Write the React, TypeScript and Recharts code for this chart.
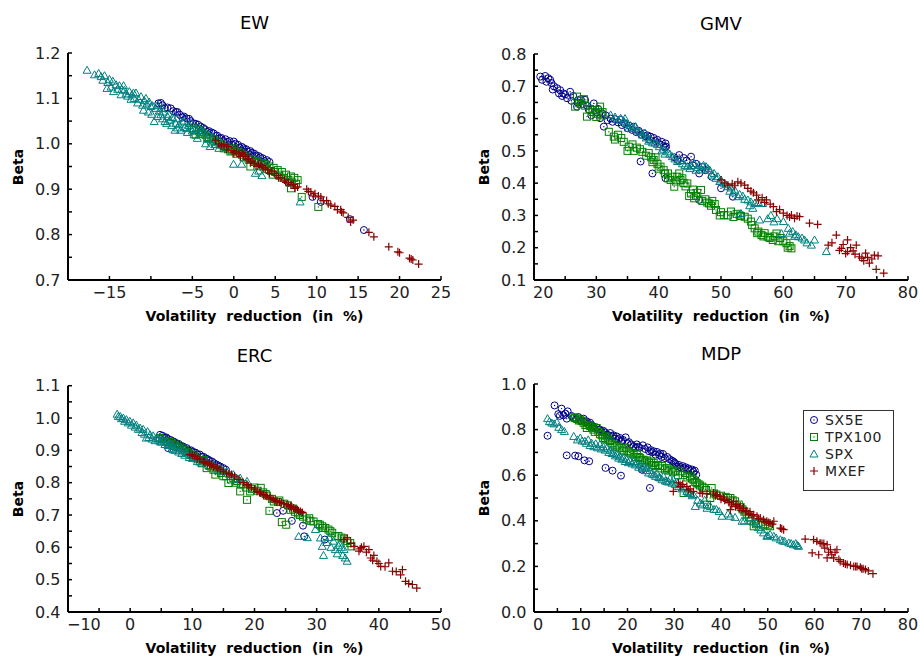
import { Scatter, ScatterChart, XAxis, YAxis } from "recharts";

type Pt = [number, number];

const seriesNames = ["SX5E", "TPX100", "SPX", "MXEF"];
const seriesColors = ["#000088", "#008000", "#008080", "#8b0000"];

// ---- EW ----
const ewSX5E: Pt[] = [
  [-9.1, 1.089], [-8.6, 1.085], [-8.0, 1.08], [-7.6, 1.078], [-7.0, 1.07], [-6.5, 1.064],
  [-6.0, 1.06], [-5.7, 1.056], [-5.2, 1.05], [-4.6, 1.044], [-4.0, 1.038], [-3.5, 1.032],
  [-3.0, 1.028], [-2.45, 1.023], [-2.0, 1.018], [-1.5, 1.013], [-1.0, 1.01], [-0.5, 1.006],
  [0, 1.005], [0.5, 0.998], [1.0, 0.993], [1.5, 0.988], [2.0, 0.984], [2.5, 0.978],
  [3.0, 0.973], [3.5, 0.968], [4.0, 0.964], [6.6, 0.914], [9.5, 0.883], [10.5, 0.872],
  [14.0, 0.834], [15.7, 0.81],
  [-8.8, 1.09], [-8.3, 1.078], [-7.3, 1.072], [-6.8, 1.07], [-6.2, 1.058], [-5.4, 1.055],
  [-4.9, 1.045], [-4.3, 1.042], [-3.7, 1.035], [-3.2, 1.026], [-2.7, 1.025], [-2.2, 1.017],
  [-1.7, 1.012], [-1.2, 1.006], [-0.7, 1.004], [-0.2, 0.998], [0.2, 1.0], [0.7, 0.992],
  [1.2, 0.99], [1.7, 0.983], [2.2, 0.98], [2.7, 0.974], [3.2, 0.97], [3.7, 0.962],
  [4.3, 0.96], [1.0, 0.985], [2.0, 0.975],
];
const ewTPX100: Pt[] = [
  [-5.0, 1.034], [-4.6, 1.02], [-4.2, 1.03], [-3.8, 1.025], [-3.4, 1.02], [-3.0, 1.012],
  [-2.5, 1.01], [-2.0, 1.005], [-1.5, 0.998], [-1.0, 0.993], [-0.4, 0.983], [0, 0.99],
  [0.5, 0.983], [1.0, 0.976], [1.5, 0.972], [2.0, 0.95], [2.2, 0.966], [2.8, 0.962],
  [3.3, 0.958], [3.8, 0.955], [4.3, 0.95], [4.8, 0.947], [5.3, 0.942], [5.5, 0.93],
  [5.8, 0.938], [6.0, 0.925], [6.3, 0.932], [6.9, 0.928], [7.3, 0.925], [7.7, 0.92],
  [6.9, 0.902], [8.2, 0.883], [10.2, 0.861],
  [-4.8, 1.03], [-4.0, 1.022], [-3.2, 1.015], [-2.7, 1.005], [-2.2, 1.0], [-1.7, 1.0],
  [-1.2, 0.99], [-0.7, 0.988], [-0.2, 0.985], [0.3, 0.978], [0.8, 0.98], [1.2, 0.97],
  [1.8, 0.965], [2.5, 0.96], [3.0, 0.952], [3.5, 0.95], [4.0, 0.945], [4.5, 0.94],
  [5.0, 0.938], [6.6, 0.92], [7.0, 0.915], [7.5, 0.912], [4.7, 0.932],
];
const ewSPX: Pt[] = [
  [-17.7, 1.162], [-16.3, 1.155], [-16.0, 1.148], [-15.6, 1.15], [-15.3, 1.122], [-15.0, 1.142],
  [-14.6, 1.138], [-14.5, 1.115], [-14.2, 1.13], [-13.8, 1.128], [-13.5, 1.12], [-13.2, 1.118],
  [-13.0, 1.11], [-12.6, 1.115], [-12.3, 1.108], [-12.0, 1.1], [-11.8, 1.112], [-11.5, 1.098],
  [-11.2, 1.104], [-10.9, 1.074], [-10.8, 1.095], [-10.5, 1.088], [-10.2, 1.092], [-10.0, 1.082],
  [-9.8, 1.084], [-9.6, 1.049], [-9.4, 1.078], [-9.0, 1.072], [-8.8, 1.064], [-8.5, 1.07],
  [-8.3, 1.049], [-8.0, 1.06], [-7.7, 1.052], [-7.4, 1.058], [-7.1, 1.03], [-7.0, 1.045],
  [-6.6, 1.042], [-6.2, 1.048], [-5.9, 1.036], [-5.7, 1.034], [-5.4, 1.04], [-5.0, 1.028],
  [-4.6, 1.032], [-4.2, 1.035], [-4.0, 1.02], [-3.6, 1.025], [-3.2, 1.01], [-2.85, 0.994],
  [-2.5, 1.015], [-2.0, 1.005], [-1.5, 1.0], [-0.03, 0.955], [0.95, 0.955], [2.6, 0.935],
  [3.0, 0.94], [3.4, 0.93], [8.0, 0.872],
  [-16.8, 1.152], [-15.8, 1.14], [-15.2, 1.135], [-14.8, 1.125], [-14.0, 1.12], [-13.6, 1.108],
  [-13.3, 1.128], [-12.8, 1.105], [-12.4, 1.098], [-12.1, 1.112], [-11.6, 1.09], [-11.0, 1.085],
  [-10.6, 1.1], [-10.3, 1.07], [-9.9, 1.065], [-9.2, 1.085], [-9.2, 1.06], [-8.7, 1.078],
  [-8.6, 1.055], [-8.1, 1.045], [-7.8, 1.065], [-7.5, 1.04], [-6.9, 1.055], [-6.8, 1.035],
  [-6.4, 1.03], [-6.0, 1.05], [-5.6, 1.025], [-5.2, 1.045], [-4.8, 1.02], [-4.4, 1.012],
  [-3.9, 1.03], [-3.4, 1.0], [-3.0, 1.02], [-2.3, 0.998], [-1.8, 0.99], [-1.2, 0.995],
];
const ewMXEF: Pt[] = [
  [-2.2, 1.008], [-1.8, 1.0], [-1.2, 0.998], [-0.7, 0.994], [-0.2, 0.985], [0.3, 0.982],
  [0.6, 0.978], [1.0, 0.98], [1.4, 0.972], [1.8, 0.968], [2.2, 0.962], [2.5, 0.957],
  [3.0, 0.955], [3.5, 0.948], [4.1, 0.943], [4.6, 0.94], [5.2, 0.93], [5.7, 0.925],
  [6.1, 0.92], [6.6, 0.915], [7.2, 0.91], [7.7, 0.905], [8.8, 0.9], [9.3, 0.894],
  [9.8, 0.89], [10.5, 0.883], [11.2, 0.875], [11.7, 0.865], [12.2, 0.862], [12.9, 0.855],
  [13.2, 0.848], [13.8, 0.838], [14.1, 0.828], [16.3, 0.805], [16.9, 0.795], [18.7, 0.773],
  [19.8, 0.762], [20.0, 0.76], [21.2, 0.748], [21.4, 0.746], [22.3, 0.735],
  [-1.5, 0.995], [-0.9, 0.988], [0.0, 0.98], [0.8, 0.972], [1.2, 0.975], [1.6, 0.965],
  [2.0, 0.96], [2.8, 0.95], [3.3, 0.952], [3.8, 0.945], [4.3, 0.935], [4.9, 0.935],
  [5.4, 0.925], [6.3, 0.915], [6.9, 0.91], [7.4, 0.902], [9.0, 0.895], [9.6, 0.885],
  [10.2, 0.885], [10.8, 0.875], [11.4, 0.868], [12.5, 0.855], [13.0, 0.85], [14.4, 0.832],
  [21.6, 0.744],
];
const ewXTicks = [-20, -15, -10, -5, 0, 5, 10, 15, 20, 25];
const ewXLabels = [-15, -5, 0, 5, 10, 15, 20, 25];
const ewYTicks = [0.7, 0.75, 0.8, 0.85, 0.9, 0.95, 1.0, 1.05, 1.1, 1.15, 1.2];
const ewYLabels = [0.7, 0.8, 0.9, 1.0, 1.1, 1.2];

// ---- GMV ----
const gmvSX5E: Pt[] = [
  [21.0, 0.73], [21.8, 0.732], [22.3, 0.725], [22.0, 0.714], [22.8, 0.71], [23.2, 0.7],
  [23.7, 0.694], [24.2, 0.688], [24.7, 0.678], [25.3, 0.663], [25.8, 0.683], [26.3, 0.67],
  [26.9, 0.637], [27.5, 0.66], [28.2, 0.658], [28.8, 0.627], [29.6, 0.647], [30.0, 0.62],
  [30.6, 0.601], [31.2, 0.575], [31.5, 0.61], [32.3, 0.6], [33.0, 0.598], [33.9, 0.596],
  [34.5, 0.585], [35.2, 0.578], [36.0, 0.575], [36.8, 0.562], [37.6, 0.554], [38.2, 0.548],
  [38.7, 0.544], [39.2, 0.54], [39.8, 0.534], [40.5, 0.528], [41.1, 0.523], [41.2, 0.513],
  [41.0, 0.51], [37.1, 0.467], [39.0, 0.43], [41.1, 0.415], [42.5, 0.48], [43.3, 0.487],
  [44.0, 0.478], [45.2, 0.482], [46.0, 0.46], [46.5, 0.43], [46.5, 0.348], [47.5, 0.44],
  [48.5, 0.42], [50.0, 0.384], [51.9, 0.358], [43.0, 0.472],
  [21.3, 0.72], [22.6, 0.72], [23.0, 0.69], [24.0, 0.678], [24.5, 0.67], [25.0, 0.675],
  [26.0, 0.655], [27.0, 0.65], [27.8, 0.645], [28.5, 0.64], [29.2, 0.61], [30.3, 0.63],
  [31.0, 0.615], [31.8, 0.595], [32.6, 0.59], [33.5, 0.588], [34.1, 0.58], [35.0, 0.57],
  [35.7, 0.565], [36.4, 0.558], [37.2, 0.55], [37.9, 0.545], [38.5, 0.535], [39.5, 0.53],
  [40.2, 0.52], [40.8, 0.515], [44.5, 0.47], [45.5, 0.455], [47.0, 0.45],
];
const gmvTPX100: Pt[] = [
  [26.9, 0.668], [26.6, 0.637], [27.5, 0.645], [28.0, 0.66], [28.5, 0.606], [29.0, 0.63],
  [29.8, 0.627], [30.2, 0.615], [30.6, 0.637], [31.0, 0.62], [32.0, 0.559], [32.8, 0.544],
  [33.5, 0.55], [34.4, 0.528], [35.2, 0.513], [35.8, 0.52], [36.5, 0.51], [37.4, 0.497],
  [38.4, 0.493], [38.8, 0.48], [39.2, 0.472], [39.8, 0.46], [40.3, 0.451], [40.8, 0.44],
  [41.5, 0.43], [41.9, 0.41], [42.5, 0.389], [43.0, 0.42], [43.3, 0.43], [43.5, 0.41],
  [44.0, 0.4], [44.6, 0.399], [45.2, 0.368], [45.7, 0.353], [46.2, 0.37], [46.8, 0.379],
  [47.5, 0.35], [48.1, 0.337], [48.6, 0.345], [49.2, 0.317], [50.0, 0.31], [50.5, 0.301],
  [51.1, 0.3], [51.6, 0.312], [52.5, 0.305], [53.2, 0.298], [53.8, 0.296], [54.3, 0.29],
  [54.8, 0.281], [55.4, 0.26], [56.0, 0.25], [56.5, 0.239], [57.0, 0.245], [57.5, 0.234],
  [58.3, 0.224], [58.9, 0.244], [59.5, 0.23], [60.0, 0.22], [60.5, 0.214], [61.0, 0.205],
  [61.3, 0.198],
  [27.2, 0.655], [28.2, 0.64], [29.4, 0.62], [30.0, 0.605], [30.8, 0.61], [33.0, 0.535],
  [34.0, 0.54], [35.0, 0.5], [36.0, 0.5], [37.0, 0.505], [38.0, 0.485], [39.0, 0.465],
  [39.5, 0.48], [40.0, 0.445], [41.0, 0.43], [41.5, 0.415], [42.2, 0.42], [42.8, 0.405],
  [43.8, 0.415], [44.3, 0.39], [44.9, 0.36], [45.5, 0.38], [46.0, 0.36], [47.0, 0.345],
  [47.8, 0.34], [48.4, 0.33], [49.0, 0.335], [49.8, 0.3], [52.0, 0.295], [53.0, 0.3],
  [55.0, 0.27], [55.8, 0.245], [56.8, 0.235], [57.8, 0.23], [58.6, 0.235], [59.2, 0.22],
  [60.7, 0.2],
];
const gmvSPX: Pt[] = [
  [32.3, 0.611], [33.0, 0.605], [33.9, 0.601], [34.4, 0.592], [34.9, 0.585], [35.5, 0.578],
  [36.0, 0.57], [36.6, 0.562], [37.4, 0.549], [38.0, 0.54], [38.7, 0.534], [39.4, 0.524],
  [40.1, 0.513], [40.8, 0.505], [41.4, 0.497], [42.2, 0.482], [43.0, 0.467], [43.8, 0.46],
  [44.6, 0.451], [45.2, 0.455], [45.7, 0.461], [46.2, 0.448], [46.8, 0.441], [47.2, 0.455],
  [47.6, 0.451], [48.2, 0.44], [48.9, 0.43], [49.5, 0.42], [50.0, 0.41], [50.5, 0.4],
  [51.1, 0.389], [51.6, 0.385], [52.2, 0.379], [52.7, 0.358], [53.5, 0.36], [54.3, 0.348],
  [54.8, 0.342], [55.4, 0.337], [56.0, 0.34], [56.7, 0.337], [53.2, 0.306], [55.1, 0.322],
  [56.2, 0.286], [58.0, 0.3], [59.0, 0.29], [60.0, 0.281], [59.7, 0.244], [60.8, 0.26],
  [61.5, 0.25], [62.0, 0.24], [62.4, 0.234], [63.0, 0.23], [63.4, 0.224], [64.5, 0.208],
  [65.0, 0.224], [66.9, 0.188],
  [33.5, 0.595], [34.6, 0.6], [35.2, 0.57], [36.3, 0.575], [37.0, 0.558], [37.8, 0.555],
  [38.4, 0.53], [39.0, 0.525], [39.8, 0.52], [40.5, 0.5], [41.0, 0.49], [41.8, 0.49],
  [42.6, 0.475], [43.4, 0.47], [44.2, 0.455], [45.0, 0.445], [46.0, 0.44], [46.5, 0.455],
  [47.9, 0.445], [48.5, 0.425], [49.2, 0.415], [49.8, 0.405], [50.8, 0.395], [51.4, 0.375],
  [52.0, 0.37], [53.0, 0.365], [53.8, 0.35], [54.6, 0.33], [57.5, 0.29], [58.5, 0.28],
  [61.0, 0.245], [61.8, 0.235], [63.8, 0.215],
];
const gmvMXEF: Pt[] = [
  [50.0, 0.41], [50.6, 0.4], [51.1, 0.394], [51.8, 0.398], [52.7, 0.404], [53.2, 0.4],
  [53.8, 0.394], [54.3, 0.384], [54.8, 0.375], [55.7, 0.363], [56.0, 0.348], [56.6, 0.355],
  [57.3, 0.348], [57.9, 0.335], [58.4, 0.327], [58.9, 0.312], [59.4, 0.318], [60.0, 0.307],
  [60.6, 0.3], [61.3, 0.301], [61.8, 0.291], [62.2, 0.298], [62.6, 0.296], [64.2, 0.276],
  [65.5, 0.272], [67.2, 0.208], [67.8, 0.215], [68.5, 0.239], [69.0, 0.192], [69.3, 0.198],
  [70.0, 0.182], [70.3, 0.188], [70.3, 0.224], [70.8, 0.2], [71.2, 0.19], [71.7, 0.208],
  [72.2, 0.172], [72.6, 0.168], [73.2, 0.183], [73.8, 0.152], [74.2, 0.165], [74.6, 0.177],
  [74.9, 0.133], [75.2, 0.175], [76.1, 0.121],
  [52.2, 0.392], [55.2, 0.37], [57.0, 0.34], [61.0, 0.295], [69.6, 0.21], [71.5, 0.18],
  [72.9, 0.16], [73.5, 0.17],
];
const gmvXTicks = [20, 25, 30, 35, 40, 45, 50, 55, 60, 65, 70, 75, 80];
const gmvXLabels = [20, 30, 40, 50, 60, 70, 80];
const gmvYTicks = [0.1, 0.15, 0.2, 0.25, 0.3, 0.35, 0.4, 0.45, 0.5, 0.55, 0.6, 0.65, 0.7, 0.75, 0.8];
const gmvYLabels = [0.1, 0.2, 0.3, 0.4, 0.5, 0.6, 0.7, 0.8];

// ---- ERC ----
const ercSX5E: Pt[] = [
  [4.8, 0.948], [5.5, 0.94], [6.1, 0.935], [6.9, 0.928], [7.5, 0.92], [8.0, 0.915],
  [8.5, 0.912], [9.1, 0.907], [9.8, 0.9], [10.5, 0.893], [11.2, 0.887], [11.8, 0.88],
  [12.5, 0.872], [13.2, 0.865], [13.9, 0.856], [14.5, 0.85], [6.1, 0.907], [23.6, 0.706],
  [24.6, 0.713], [26.0, 0.682], [27.8, 0.667], [28.0, 0.634], [31.3, 0.624],
  [5.2, 0.945], [5.8, 0.94], [6.5, 0.932], [7.2, 0.925], [7.8, 0.92], [8.3, 0.91],
  [8.8, 0.905], [9.4, 0.9], [10.1, 0.895], [10.8, 0.888], [11.5, 0.88], [12.2, 0.875],
  [12.8, 0.868], [13.5, 0.86], [14.2, 0.852], [15.0, 0.845], [15.4, 0.84],
];
const ercTPX100: Pt[] = [
  [4.8, 0.938], [5.5, 0.93], [6.5, 0.925], [7.2, 0.918], [8.0, 0.912], [8.8, 0.9],
  [9.5, 0.89], [10.2, 0.881], [11.2, 0.866], [11.8, 0.87], [12.3, 0.845], [13.0, 0.85],
  [13.7, 0.825], [14.2, 0.838], [15.0, 0.82], [15.8, 0.799], [16.6, 0.814], [17.2, 0.805],
  [17.7, 0.773], [18.2, 0.795], [18.8, 0.747], [19.3, 0.773], [20.0, 0.785], [21.0, 0.784],
  [21.8, 0.765], [22.4, 0.713], [23.1, 0.742], [23.8, 0.74], [24.4, 0.678], [25.1, 0.67],
  [25.8, 0.716], [26.5, 0.71], [27.3, 0.7], [28.4, 0.686], [29.0, 0.682], [29.5, 0.68],
  [30.2, 0.672], [30.9, 0.665], [31.4, 0.66], [31.9, 0.655], [32.5, 0.645], [33.0, 0.634],
  [34.4, 0.627], [35.4, 0.613], [35.6, 0.603],
  [5.2, 0.935], [6.0, 0.925], [6.8, 0.918], [7.6, 0.91], [8.4, 0.905], [9.2, 0.895],
  [9.9, 0.885], [10.7, 0.875], [11.5, 0.86], [12.6, 0.855], [13.4, 0.84], [14.6, 0.83],
  [15.4, 0.82], [16.2, 0.81], [17.0, 0.8], [17.8, 0.795], [18.6, 0.785], [19.6, 0.78],
  [20.5, 0.775], [21.4, 0.77], [22.0, 0.76], [22.8, 0.75], [24.0, 0.745], [24.8, 0.735],
  [25.4, 0.73], [26.2, 0.72], [27.0, 0.705], [27.8, 0.695], [28.8, 0.69], [30.5, 0.67],
  [31.0, 0.66], [32.2, 0.65], [33.5, 0.635], [34.0, 0.63], [34.9, 0.62],
];
const ercSPX: Pt[] = [
  [-2.1, 1.012], [-1.6, 1.005], [-1.1, 1.0], [-0.6, 0.995], [-0.05, 0.99], [0.5, 0.985],
  [1.0, 0.978], [1.6, 0.969], [2.1, 0.965], [2.6, 0.938], [2.8, 0.958], [3.2, 0.948],
  [3.7, 0.945], [4.2, 0.938], [4.8, 0.928], [5.3, 0.932], [5.9, 0.928], [6.4, 0.92],
  [6.9, 0.912], [6.9, 0.902], [7.5, 0.91], [8.0, 0.907], [8.5, 0.9], [9.1, 0.892],
  [9.8, 0.885], [10.5, 0.878], [11.2, 0.871], [12.3, 0.862], [13.4, 0.856], [14.5, 0.845],
  [15.5, 0.835], [16.6, 0.825], [17.7, 0.814], [18.8, 0.804], [27.1, 0.634], [29.8, 0.655],
  [30.6, 0.629], [30.9, 0.603], [31.1, 0.575], [32.0, 0.63], [32.7, 0.619], [33.0, 0.593],
  [33.5, 0.605], [33.8, 0.613], [34.2, 0.575], [34.4, 0.593], [34.6, 0.567], [34.9, 0.557],
  [-1.9, 1.005], [-1.4, 0.998], [-0.9, 0.99], [-0.3, 0.985], [0.2, 0.978], [0.8, 0.972],
  [1.3, 0.965], [1.9, 0.955], [2.3, 0.95], [3.0, 0.94], [3.5, 0.935], [4.0, 0.93],
  [4.5, 0.935], [5.0, 0.925], [5.6, 0.918], [6.1, 0.915], [6.7, 0.905], [7.2, 0.9],
  [7.8, 0.895], [8.3, 0.89], [8.8, 0.885], [9.5, 0.878], [10.0, 0.875], [10.8, 0.865],
  [11.6, 0.86], [12.8, 0.85], [13.9, 0.842], [15.0, 0.835], [16.0, 0.825], [17.2, 0.81],
  [28.5, 0.63], [31.6, 0.615], [32.3, 0.6], [33.3, 0.58], [34.0, 0.6],
];
const ercMXEF: Pt[] = [
  [9.6, 0.887], [10.4, 0.881], [11.2, 0.872], [11.8, 0.866], [12.5, 0.86], [13.1, 0.856],
  [13.8, 0.848], [14.5, 0.84], [15.5, 0.83], [16.3, 0.825], [17.5, 0.81], [18.8, 0.794],
  [19.5, 0.785], [20.4, 0.773], [21.0, 0.768], [21.5, 0.763], [22.0, 0.758], [22.5, 0.753],
  [23.0, 0.748], [23.6, 0.742], [24.3, 0.738], [25.2, 0.732], [25.8, 0.727], [26.3, 0.722],
  [26.9, 0.716], [27.4, 0.711], [34.4, 0.624], [34.9, 0.629], [36.0, 0.603], [36.8, 0.588],
  [37.2, 0.6], [37.6, 0.603], [38.4, 0.593], [38.7, 0.567], [39.2, 0.575], [39.7, 0.557],
  [40.3, 0.541], [41.6, 0.552], [42.2, 0.526], [43.5, 0.515], [43.8, 0.531], [44.3, 0.495],
  [45.4, 0.485], [46.1, 0.474],
  [10.0, 0.885], [10.8, 0.875], [12.0, 0.862], [12.8, 0.855], [13.4, 0.85], [14.1, 0.845],
  [15.0, 0.835], [15.9, 0.828], [16.8, 0.82], [18.2, 0.8], [19.0, 0.79], [20.0, 0.78],
  [20.8, 0.77], [21.8, 0.76], [22.8, 0.75], [23.3, 0.745], [24.0, 0.74], [24.7, 0.735],
  [25.5, 0.728], [26.0, 0.725], [26.6, 0.718], [27.1, 0.713], [27.7, 0.708], [35.5, 0.612],
  [37.0, 0.595], [38.0, 0.585], [39.0, 0.56], [40.0, 0.55], [41.0, 0.54], [42.8, 0.525],
  [44.8, 0.488],
];
const ercXTicks = [-10, -5, 0, 5, 10, 15, 20, 25, 30, 35, 40, 45, 50];
const ercXLabels = [-10, 0, 10, 20, 30, 40, 50];
const ercYTicks = [0.4, 0.45, 0.5, 0.55, 0.6, 0.65, 0.7, 0.75, 0.8, 0.85, 0.9, 0.95, 1.0, 1.05, 1.1];
const ercYLabels = [0.4, 0.5, 0.6, 0.7, 0.8, 0.9, 1.0, 1.1];

// ---- MDP ----
const mdpSX5E: Pt[] = [
  [2.9, 0.773], [4.4, 0.906], [5.2, 0.868], [5.9, 0.892], [6.3, 0.863], [7.0, 0.848],
  [7.2, 0.88], [8.4, 0.851], [9.5, 0.855], [10.6, 0.848], [11.3, 0.836], [12.0, 0.83],
  [12.7, 0.814], [13.4, 0.81], [14.1, 0.8], [14.8, 0.795], [15.6, 0.778], [16.3, 0.785],
  [17.0, 0.775], [17.7, 0.77], [18.4, 0.763], [19.0, 0.755], [19.6, 0.766], [20.3, 0.745],
  [21.3, 0.727], [22.0, 0.735], [22.6, 0.72], [23.3, 0.731], [24.3, 0.722], [25.0, 0.71],
  [25.6, 0.705], [26.3, 0.702], [27.0, 0.695], [27.6, 0.693], [28.5, 0.68], [29.5, 0.664],
  [30.0, 0.655], [30.6, 0.639], [31.3, 0.635], [32.0, 0.63], [32.7, 0.624], [33.4, 0.62],
  [34.1, 0.615], [34.7, 0.602], [7.0, 0.687], [8.8, 0.686], [9.5, 0.683], [10.8, 0.665],
  [11.8, 0.661], [15.3, 0.632], [16.8, 0.62], [18.6, 0.598], [24.8, 0.544], [23.1, 0.624],
  [5.5, 0.86], [6.7, 0.87], [8.0, 0.86], [9.0, 0.845], [10.0, 0.84], [10.9, 0.832],
  [11.6, 0.825], [12.3, 0.82], [13.0, 0.805], [13.8, 0.8], [14.5, 0.79], [15.2, 0.788],
  [16.0, 0.775], [16.7, 0.77], [17.4, 0.76], [18.0, 0.758], [18.8, 0.75], [20.0, 0.74],
  [20.8, 0.735], [21.7, 0.72], [22.3, 0.725], [23.8, 0.715], [24.6, 0.705], [25.3, 0.7],
  [26.0, 0.69], [26.8, 0.688], [27.3, 0.68], [28.0, 0.675], [29.0, 0.67], [29.8, 0.66],
  [30.3, 0.65], [31.0, 0.645], [31.8, 0.64], [32.4, 0.635], [33.0, 0.63], [33.8, 0.625],
  [34.4, 0.62],
];
const mdpTPX100: Pt[] = [
  [8.4, 0.854], [9.2, 0.848], [9.9, 0.844], [10.6, 0.83], [11.3, 0.807], [12.0, 0.815],
  [12.7, 0.8], [13.4, 0.807], [14.1, 0.78], [14.8, 0.763], [15.5, 0.77], [16.2, 0.75],
  [17.0, 0.734], [17.8, 0.73], [18.9, 0.712], [19.6, 0.72], [20.4, 0.7], [21.3, 0.69],
  [22.0, 0.695], [22.7, 0.675], [23.4, 0.668], [24.2, 0.665], [25.0, 0.66], [25.6, 0.654],
  [26.5, 0.645], [27.4, 0.64], [28.4, 0.632], [29.2, 0.625], [30.2, 0.62], [31.3, 0.617],
  [32.3, 0.61], [33.4, 0.595], [34.1, 0.58], [34.8, 0.566], [35.5, 0.555], [36.3, 0.544],
  [37.0, 0.471], [37.7, 0.5], [38.0, 0.544], [38.5, 0.52], [32.0, 0.522], [40.0, 0.51],
  [41.0, 0.505], [42.0, 0.5], [43.0, 0.485], [43.8, 0.471], [44.6, 0.45], [45.5, 0.427],
  [46.3, 0.4], [47.0, 0.376], [48.0, 0.39], [49.5, 0.385], [50.5, 0.376],
  [8.8, 0.85], [9.6, 0.84], [10.2, 0.838], [11.0, 0.82], [11.7, 0.82], [12.4, 0.81],
  [13.0, 0.79], [13.8, 0.79], [14.5, 0.775], [15.2, 0.76], [15.9, 0.755], [16.6, 0.74],
  [17.4, 0.725], [18.3, 0.72], [19.2, 0.705], [20.0, 0.705], [20.8, 0.695], [21.7, 0.68],
  [22.4, 0.68], [23.0, 0.665], [23.8, 0.66], [24.6, 0.655], [25.3, 0.645], [26.0, 0.64],
  [27.0, 0.63], [28.0, 0.625], [28.8, 0.62], [29.7, 0.615], [30.8, 0.6], [31.8, 0.6],
  [32.8, 0.59], [33.8, 0.585], [34.5, 0.57], [35.2, 0.56], [36.0, 0.55], [36.8, 0.535],
  [39.0, 0.515], [41.5, 0.5], [42.5, 0.49], [44.2, 0.46], [45.0, 0.44], [46.0, 0.415],
  [47.5, 0.385], [49.0, 0.38], [50.0, 0.38],
];
const mdpSPX: Pt[] = [
  [2.9, 0.848], [3.8, 0.829], [4.9, 0.832], [5.9, 0.8], [6.5, 0.792], [8.5, 0.77],
  [9.9, 0.763], [10.9, 0.749], [11.6, 0.755], [12.3, 0.741], [13.2, 0.738], [14.1, 0.734],
  [14.8, 0.725], [15.6, 0.719], [16.3, 0.71], [17.0, 0.697], [17.7, 0.69], [18.4, 0.683],
  [19.1, 0.675], [19.8, 0.668], [20.5, 0.665], [21.3, 0.66], [22.0, 0.654], [22.8, 0.645],
  [23.5, 0.64], [24.1, 0.632], [24.8, 0.62], [25.6, 0.602], [26.3, 0.61], [27.0, 0.588],
  [27.7, 0.595], [28.4, 0.573], [29.1, 0.585], [29.8, 0.58], [30.5, 0.57], [31.3, 0.558],
  [32.0, 0.545], [32.7, 0.529], [33.4, 0.52], [34.1, 0.515], [34.5, 0.463], [35.6, 0.478],
  [36.5, 0.49], [37.7, 0.463], [38.5, 0.45], [39.6, 0.441], [40.2, 0.42], [41.5, 0.43],
  [43.0, 0.415], [44.5, 0.398], [46.3, 0.412], [47.5, 0.39], [48.5, 0.36], [49.1, 0.347],
  [49.8, 0.332], [50.5, 0.34], [51.3, 0.332], [52.7, 0.317], [53.6, 0.31], [54.5, 0.303],
  [55.5, 0.295], [56.0, 0.3], [56.6, 0.288],
  [3.3, 0.835], [4.3, 0.825], [5.3, 0.81], [9.3, 0.755], [10.3, 0.75], [11.2, 0.74],
  [12.0, 0.73], [12.8, 0.725], [13.6, 0.72], [14.4, 0.715], [15.2, 0.71], [16.0, 0.7],
  [16.7, 0.695], [17.4, 0.685], [18.1, 0.675], [18.8, 0.67], [19.5, 0.66], [20.2, 0.655],
  [21.0, 0.65], [21.7, 0.645], [22.4, 0.635], [23.2, 0.63], [23.9, 0.62], [24.5, 0.61],
  [25.2, 0.605], [26.0, 0.595], [26.7, 0.59], [27.4, 0.58], [28.1, 0.575], [28.8, 0.57],
  [29.5, 0.565], [30.2, 0.56], [30.9, 0.55], [31.6, 0.54], [33.0, 0.525], [33.8, 0.51],
  [35.0, 0.49], [36.0, 0.47], [37.0, 0.455], [39.0, 0.45], [42.0, 0.42], [45.0, 0.4],
  [46.8, 0.395], [48.0, 0.37], [50.0, 0.335], [51.8, 0.325], [53.2, 0.312], [55.0, 0.3],
  [56.3, 0.292],
];
const mdpMXEF: Pt[] = [
  [29.8, 0.529], [30.9, 0.566], [31.8, 0.56], [32.7, 0.551], [33.4, 0.54], [34.1, 0.529],
  [35.5, 0.522], [38.4, 0.522], [39.1, 0.515], [39.8, 0.507], [40.5, 0.5], [41.3, 0.493],
  [42.0, 0.449], [42.7, 0.485], [43.4, 0.471], [44.1, 0.465], [44.8, 0.456], [45.5, 0.442],
  [46.2, 0.44], [47.0, 0.427], [47.7, 0.42], [48.4, 0.412], [49.1, 0.405], [49.8, 0.398],
  [50.5, 0.39], [51.3, 0.398], [52.7, 0.368], [53.4, 0.361], [58.0, 0.32], [59.5, 0.259],
  [59.8, 0.317], [60.5, 0.31], [60.9, 0.251], [61.2, 0.303], [62.0, 0.3], [62.7, 0.295],
  [62.7, 0.237], [63.4, 0.273], [63.7, 0.251], [64.1, 0.237], [64.8, 0.273], [65.5, 0.222],
  [66.2, 0.215], [67.0, 0.208], [67.7, 0.205], [68.4, 0.2], [69.1, 0.2], [69.8, 0.196],
  [70.4, 0.19], [70.9, 0.186], [72.5, 0.168],
  [31.3, 0.55], [33.0, 0.535], [36.0, 0.52], [37.0, 0.518], [38.8, 0.51], [40.0, 0.495],
  [40.8, 0.49], [41.7, 0.48], [42.3, 0.47], [43.1, 0.462], [43.9, 0.455], [44.5, 0.445],
  [45.2, 0.44], [45.9, 0.43], [46.6, 0.425], [48.0, 0.41], [49.4, 0.395], [50.2, 0.392],
  [51.0, 0.385], [53.0, 0.365], [61.6, 0.3], [62.2, 0.28], [63.0, 0.262], [64.4, 0.262],
  [65.2, 0.23], [66.6, 0.21], [68.8, 0.2], [70.1, 0.19], [71.5, 0.18],
];
const mdpXTicks = [0, 5, 10, 15, 20, 25, 30, 35, 40, 45, 50, 55, 60, 65, 70, 75, 80];
const mdpXLabels = [0, 10, 20, 30, 40, 50, 60, 70, 80];
const mdpYTicks = [0, 0.1, 0.2, 0.3, 0.4, 0.5, 0.6, 0.7, 0.8, 0.9, 1.0];
const mdpYLabels = [0, 0.2, 0.4, 0.6, 0.8, 1.0];

const FONT = "'DejaVu Sans', sans-serif";
const W = 460;
const H = 328;

const has = (list: number[], v: number) => list.some((l) => Math.abs(l - v) < 1e-6);

function Marker(props: any) {
  const { cx, cy, kind, color } = props;
  if (cx == null || cy == null) return <g />;
  if (kind === 0)
    return (
      <g>
        <circle cx={cx} cy={cy} r={3.5} fill="none" stroke={color} strokeWidth={1} />
        <circle cx={cx} cy={cy} r={0.7} fill={color} />
      </g>
    );
  if (kind === 1)
    return (
      <g>
        <rect x={cx - 3.5} y={cy - 3.5} width={7} height={7} fill="none" stroke={color} strokeWidth={1} />
        <rect x={cx - 0.6} y={cy - 0.6} width={1.2} height={1.2} fill={color} />
      </g>
    );
  if (kind === 2)
    return (
      <path
        d={`M${cx},${cy - 4}L${cx + 4},${cy + 3}L${cx - 4},${cy + 3}Z`}
        fill="none"
        stroke={color}
        strokeWidth={1}
      />
    );
  return (
    <path d={`M${cx - 4},${cy}H${cx + 4}M${cx},${cy - 4}V${cy + 4}`} stroke={color} strokeWidth={1.2} />
  );
}

interface PanelProps {
  left: number;
  top: number;
  title: string;
  plot: { l: number; t: number; r: number; b: number };
  xTicks: number[];
  xLabels: number[];
  yTicks: number[];
  yLabels: number[];
  series: Pt[][];
  children?: any;
}

function Panel({ left, top, title, plot, xTicks, xLabels, yTicks, yLabels, series, children }: PanelProps) {
  const xDomain = [xTicks[0], xTicks[xTicks.length - 1]];
  const yDomain = [yTicks[0], yTicks[yTicks.length - 1]];
  const firstX = xTicks[0];

  const xTick = (p: any) => {
    const v = p.payload.value;
    if (!has(xLabels, v)) return <g />;
    const first = Math.abs(v - firstX) < 1e-6;
    const txt = v < 0 ? "\u2212" + Math.abs(v) : String(v);
    return (
      <text
        x={first ? p.x - 1 : p.x}
        y={p.y}
        dy="0.71em"
        textAnchor={first ? "start" : "middle"}
        fontSize={16}
        fontFamily={FONT}
        fill="#222"
      >
        {txt}
      </text>
    );
  };

  const yTick = (p: any) => {
    const v = p.payload.value;
    if (!has(yLabels, v)) return <g />;
    return (
      <text x={p.x} y={p.y} dy="0.355em" textAnchor="end" fontSize={16} fontFamily={FONT} fill="#222">
        {v.toFixed(1)}
      </text>
    );
  };

  const cx = (plot.l + plot.r) / 2;
  const cy = (plot.t + plot.b) / 2;

  return (
    <div style={{ position: "absolute", left, top, width: W, height: H }}>
      <ScatterChart
        width={W}
        height={H}
        margin={{ top: plot.t, right: W - plot.r, bottom: H - plot.b - 30, left: plot.l - 60 }}
      >
        <XAxis
          type="number"
          dataKey="x"
          domain={xDomain}
          ticks={xTicks}
          interval={0}
          allowDataOverflow
          height={30}
          tickSize={-4}
          tickMargin={11}
          axisLine={{ stroke: "#000", strokeWidth: 2 }}
          tickLine={{ stroke: "#000", strokeWidth: 1.5 }}
          tick={xTick}
        />
        <YAxis
          type="number"
          dataKey="y"
          domain={yDomain}
          ticks={yTicks}
          interval={0}
          allowDataOverflow
          width={60}
          tickSize={-4}
          tickMargin={11.5}
          axisLine={{ stroke: "#000", strokeWidth: 2 }}
          tickLine={{ stroke: "#000", strokeWidth: 1.5 }}
          tick={yTick}
        />
        {series.map((pts, i) => (
          <Scatter
            key={seriesNames[i]}
            name={seriesNames[i]}
            data={pts.map(([x, y]) => ({ x, y }))}
            fill={seriesColors[i]}
            isAnimationActive={false}
            shape={(p: any) => <Marker {...p} kind={i} color={seriesColors[i]} />}
          />
        ))}
      </ScatterChart>
      <div
        style={{
          position: "absolute",
          left: plot.l,
          width: plot.r - plot.l,
          top: plot.t - 39,
          textAlign: "center",
          fontFamily: FONT,
          fontSize: 18,
          lineHeight: "18px",
          color: "#000",
        }}
      >
        {title}
      </div>
      <div
        style={{
          position: "absolute",
          left: cx - 150,
          width: 300,
          top: plot.b + 29,
          textAlign: "center",
          fontFamily: FONT,
          fontSize: 14,
          fontWeight: "bold",
          lineHeight: "14px",
          wordSpacing: 5,
          color: "#000",
          whiteSpace: "nowrap",
        }}
      >
        Volatility reduction (in %)
      </div>
      <div
        style={{
          position: "absolute",
          left: plot.l - 50 - 30,
          top: cy - 7,
          width: 60,
          textAlign: "center",
          fontFamily: FONT,
          fontSize: 14,
          fontWeight: "bold",
          lineHeight: "14px",
          color: "#000",
          transform: "rotate(-90deg)",
        }}
      >
        Beta
      </div>
      {children}
    </div>
  );
}

function LegendBox() {
  return (
    <div
      style={{
        position: "absolute",
        left: 343,
        top: 82,
        width: 91,
        height: 81,
        boxSizing: "border-box",
        border: "1.5px solid #333",
        background: "#fff",
      }}
    >
      {seriesNames.map((n, i) => (
        <div
          key={n}
          style={{
            position: "absolute",
            left: 0,
            top: 0.5 + i * 17,
            height: 16,
            display: "flex",
            alignItems: "center",
          }}
        >
          <svg width={20} height={16} style={{ display: "block" }}>
            <Marker cx={10} cy={8} kind={i} color={seriesColors[i]} />
          </svg>
          <span
            style={{
              fontFamily: FONT,
              fontSize: 14,
              lineHeight: "16px",
              letterSpacing: 0.6,
              color: "#222",
              marginLeft: 1,
            }}
          >
            {n}
          </span>
        </div>
      ))}
    </div>
  );
}

export default function App() {
  return (
    <div style={{ position: "absolute", left: 0, top: 0, width: 920, height: 656, background: "#fff" }}>
      <Panel
        left={0}
        top={0}
        title="EW"
        plot={{ l: 68, t: 53, r: 441, b: 280 }}
        xTicks={ewXTicks}
        xLabels={ewXLabels}
        yTicks={ewYTicks}
        yLabels={ewYLabels}
        series={[ewSX5E, ewTPX100, ewSPX, ewMXEF]}
      />
      <Panel
        left={460}
        top={0}
        title="GMV"
        plot={{ l: 74, t: 54, r: 448, b: 280 }}
        xTicks={gmvXTicks}
        xLabels={gmvXLabels}
        yTicks={gmvYTicks}
        yLabels={gmvYLabels}
        series={[gmvSX5E, gmvTPX100, gmvSPX, gmvMXEF]}
      />
      <Panel
        left={0}
        top={328}
        title="ERC"
        plot={{ l: 68, t: 57.7, r: 441, b: 284 }}
        xTicks={ercXTicks}
        xLabels={ercXLabels}
        yTicks={ercYTicks}
        yLabels={ercYLabels}
        series={[ercSX5E, ercTPX100, ercSPX, ercMXEF]}
      />
      <Panel
        left={460}
        top={328}
        title="MDP"
        plot={{ l: 74, t: 56, r: 448, b: 284 }}
        xTicks={mdpXTicks}
        xLabels={mdpXLabels}
        yTicks={mdpYTicks}
        yLabels={mdpYLabels}
        series={[mdpSX5E, mdpTPX100, mdpSPX, mdpMXEF]}
      >
        <LegendBox />
      </Panel>
    </div>
  );
}
